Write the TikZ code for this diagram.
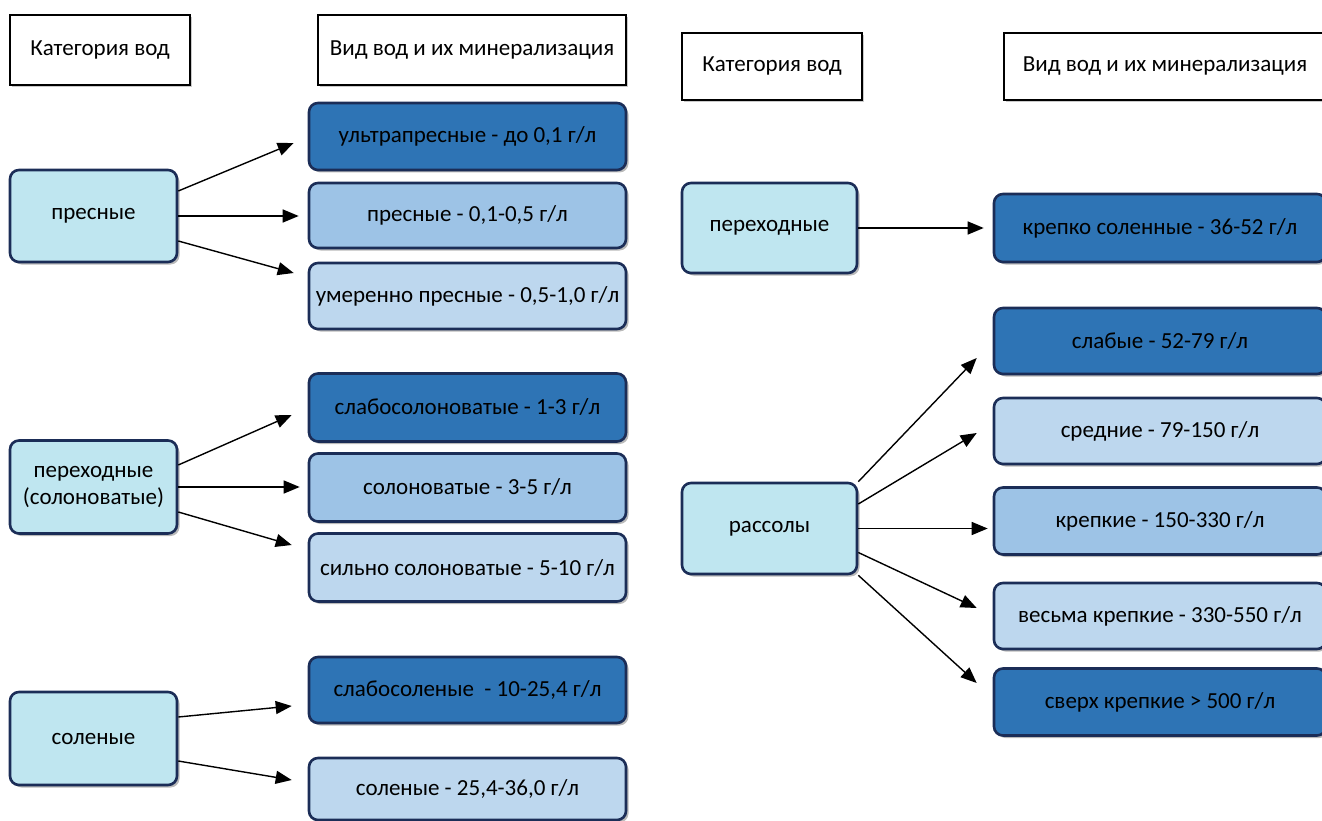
\documentclass[tikz,border=0pt]{standalone}
\usepackage{fontspec}
\setmainfont{Carlito}
\usetikzlibrary{arrows.meta,calc,shadows}

\definecolor{edgenavy}{HTML}{1B2D57}
\definecolor{deepblue}{HTML}{2E74B5}
\definecolor{midblue}{HTML}{9DC3E6}
\definecolor{paleblue}{HTML}{BDD7EE}
\definecolor{catcyan}{HTML}{BFE6F0}

\tikzset{
  base/.style={rectangle, draw=edgenavy, line width=2.6pt, rounded corners=9pt,
    inner sep=2pt, align=center, text=black,
    font=\fontsize{23}{27}\selectfont,
    drop shadow={shadow xshift=2.5pt, shadow yshift=-2.5pt, fill=black!60, opacity=0.45}},
  header/.style={rectangle, draw=black, fill=white, line width=2.6pt, inner sep=2pt,
    align=center, font=\fontsize{23}{27}\selectfont,
    drop shadow={shadow xshift=2pt, shadow yshift=-2pt, fill=black!60, opacity=0.35}},
  catbox/.style={base, fill=catcyan, minimum width=167pt},
  rcatbox/.style={base, fill=catcyan, minimum width=175pt},
  darkbox/.style={base, fill=deepblue, minimum width=317pt},
  medbox/.style={base, fill=midblue, minimum width=317pt},
  lightbox/.style={base, fill=paleblue, minimum width=317pt},
  rdark/.style={darkbox, minimum width=332pt},
  rmed/.style={medbox, minimum width=332pt},
  rlight/.style={lightbox, minimum width=332pt},
  arr/.style={draw=black, line width=1.4pt, -{Triangle[length=16pt,width=13pt]}}
}

\begin{document}
\begin{tikzpicture}[x=1pt, y=-1pt]
\useasboundingbox (0,0) rectangle (1322,821);

% column headers
\node[header, minimum width=180pt, minimum height=70pt] (h1) at (100,50) {Категория вод};
\node[header, minimum width=308pt, minimum height=70pt] (h2) at (472,50) {Вид вод и их минерализация};
\node[header, minimum width=180pt, minimum height=67pt] (h3) at (772,66.5) {Категория вод};
\node[header, minimum width=322pt, minimum height=67pt] (h4) at (1165,66.5) {Вид вод и их минерализация};

% fresh waters
\node[catbox, minimum height=92pt] (pres) at (93.5,216) {пресные};
\node[darkbox, minimum height=67pt] (b1) at (467.5,136.5) {ультрапресные - до 0,1 г/л};
\node[medbox, minimum height=65pt] (b2) at (467.5,215.5) {пресные - 0,1-0,5 г/л};
\node[lightbox, minimum height=66pt] (b3) at (467.5,296) {умеренно пресные - 0,5-1,0 г/л};

% brackish waters
\node[catbox, minimum height=93pt] (per) at (93.5,487) {переходные\\(солоноватые)};
\node[darkbox, minimum height=68pt] (c1) at (467.5,407.5) {слабосолоноватые - 1-3 г/л};
\node[medbox, minimum height=68pt] (c2) at (467.5,487.5) {солоноватые - 3-5 г/л};
\node[lightbox, minimum height=68pt] (c3) at (467.5,567.5) {сильно солоноватые - 5-10 г/л};

% salt waters
\node[catbox, minimum height=93pt] (sol) at (93.5,738.5) {соленые};
\node[darkbox, minimum height=66pt] (d1) at (467.5,690) {слабосоленые \ - 10-25,4 г/л};
\node[lightbox, minimum height=62pt] (d2) at (467.5,789) {соленые - 25,4-36,0 г/л};

% transitional waters
\node[rcatbox, minimum height=90pt] (pr) at (769.5,228) {переходные};
\node[rdark, minimum height=68pt] (e0) at (1160,228) {крепко соленные - 36-52 г/л};

% brines
\node[rcatbox, minimum height=91pt] (ras) at (769.5,528.5) {рассолы};
\node[rdark, minimum height=66pt] (f1) at (1160,341) {слабые - 52-79 г/л};
\node[rlight, minimum height=66pt] (f2) at (1160,431) {средние - 79-150 г/л};
\node[rmed, minimum height=67pt] (f3) at (1160,521) {крепкие - 150-330 г/л};
\node[rlight, minimum height=66pt] (f4) at (1160,616) {весьма крепкие - 330-550 г/л};
\node[rdark, minimum height=67pt] (f5) at (1160,702) {сверх крепкие > 500 г/л};

% connectors
\draw[arr] ($(pres.east)+(0,-25)$) -- ($(b1.west)+(-14,6.5)$);
\draw[arr] (pres.east) -- ($(b2.west |- pres.east)+(-9,0)$);
\draw[arr] ($(pres.east)+(0,25)$) -- ($(b3.west)+(-14,-23)$);

\draw[arr] ($(per.east)+(0,-22)$) -- ($(c1.west)+(-16,7.5)$);
\draw[arr] (per.east) -- ($(c2.west |- per.east)+(-8,0)$);
\draw[arr] ($(per.east)+(0,25)$) -- ($(c3.west)+(-16,-22.5)$);

\draw[arr] ($(sol.east)+(0,-21.5)$) -- ($(d1.west)+(-16,16)$);
\draw[arr] ($(sol.east)+(0,22.5)$) -- ($(d2.west)+(-16,-9)$);

\draw[arr] (pr.east) -- ($(e0.west |- pr.east)+(-9,0)$);

\draw[arr] (ras.north east) -- ($(f1.west)+(-16,17)$);
\draw[arr] ($(ras.east)+(0,-24.5)$) -- ($(f2.west)+(-16,2)$);
\draw[arr] (ras.east) -- ($(f3.west |- ras.east)+(-5,0)$);
\draw[arr] ($(ras.east)+(0,24)$) -- ($(f4.west)+(-16,-8)$);
\draw[arr] (ras.south east) -- ($(f5.west)+(-16,-19)$);
\end{tikzpicture}
\end{document}
